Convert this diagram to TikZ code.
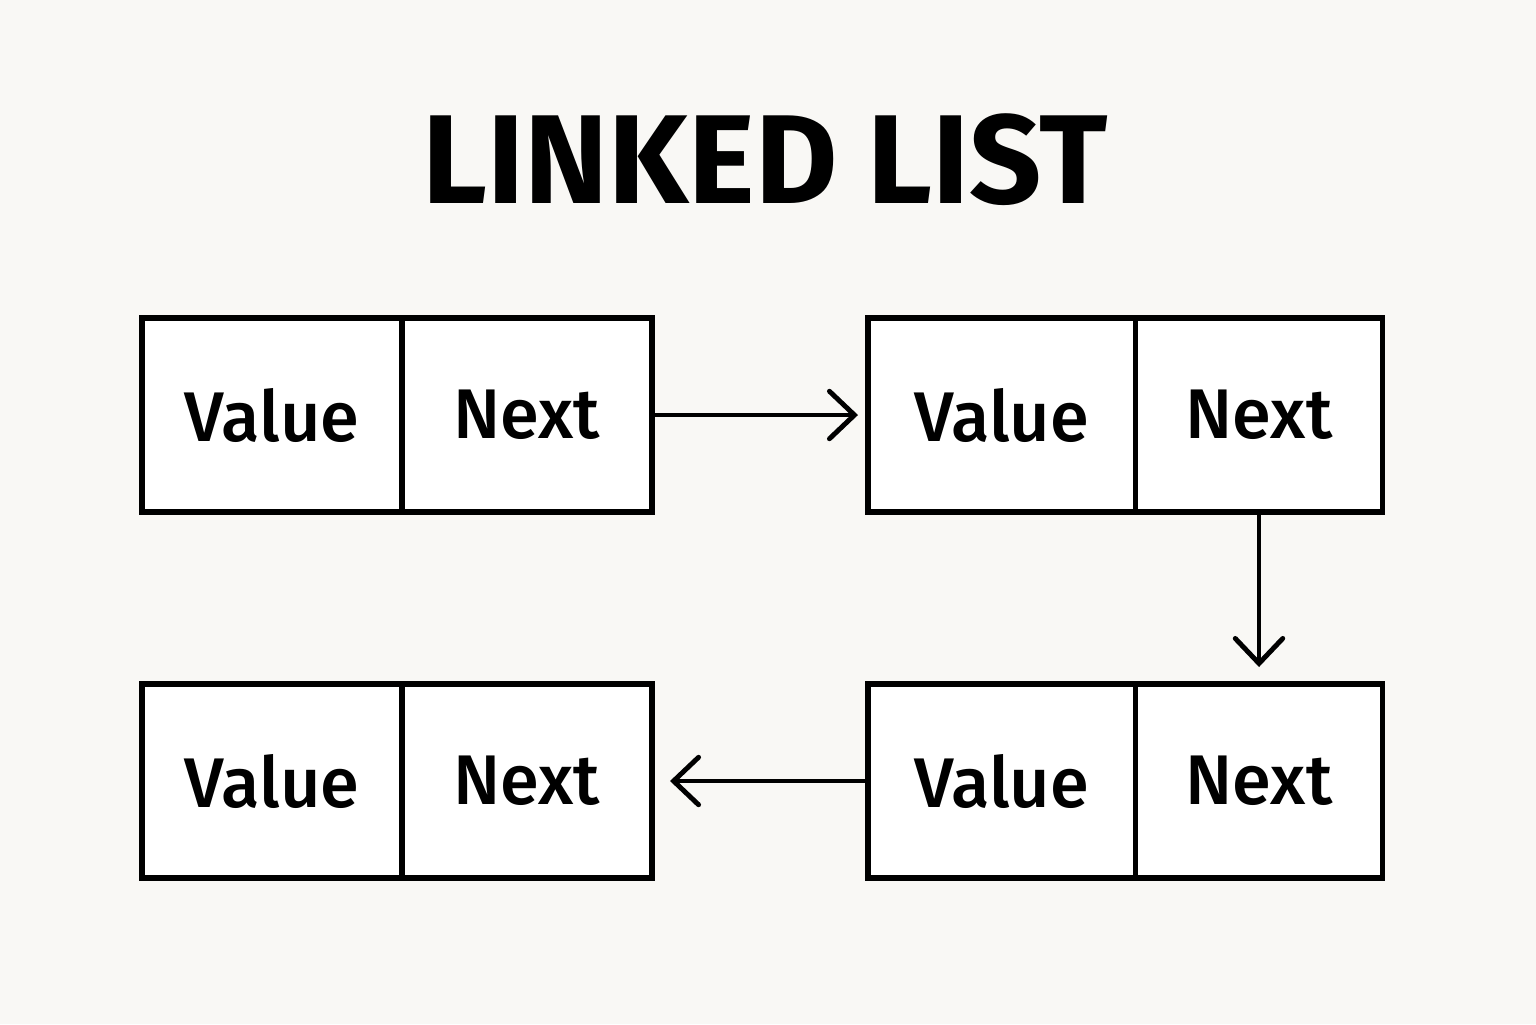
\documentclass[tikz,border=0pt]{standalone}
\usepackage{fontspec}
\setmainfont{Fira Sans}
\newfontfamily\cellfont{Fira Sans Medium}
\usetikzlibrary{arrows.meta,positioning}

\definecolor{paper}{HTML}{F9F8F5}

\tikzset{
  cell/.style={draw, line width=3.2pt, fill=white, outer sep=0pt,
               minimum height=3.88cm, font=\cellfont\fontsize{40}{44}\selectfont},
  valcell/.style={cell, minimum width=5.2cm},
  nextcell/.style={cell, minimum width=5.0cm},
  link/.style={->, line width=2.8pt, >={Straight Barb[length=0.5cm,width=0.95cm,line cap=round]}}
}

\begin{document}
\begin{tikzpicture}
        \fill[paper] (0,0) rectangle (30.72,-20.48);
        \useasboundingbox (0,0) rectangle (30.72,-20.48);

        \node (title) at (15.3,-3.2) {\fontsize{72}{76}\selectfont\bfseries LINKED LIST};

        % first row
        \node (v1) [valcell, anchor=west] at (2.84,-8.30) {Value};
        \node (n1) [nextcell, right=0pt of v1] {Next};
        \node (v2) [valcell, anchor=west, minimum width=5.35cm] at (17.36,-8.30) {Value};
        \node (n2) [nextcell, right=0pt of v2, minimum width=4.94cm] {Next};

        % second row
        \node (v4) [valcell, anchor=west] at (2.84,-15.62) {Value};
        \node (n4) [nextcell, right=0pt of v4] {Next};
        \node (v3) [valcell, anchor=west, minimum width=5.35cm] at (17.36,-15.62) {Value};
        \node (n3) [nextcell, right=0pt of v3, minimum width=4.94cm] {Next};

        \draw[link, shorten >=0.2cm] (n1) -- (v2);
        \draw[link, shorten >=0.34cm] (n2) -- (n3);
        \draw[link, shorten >=0.36cm] (v3) -- (n4);
    \end{tikzpicture}
\end{document}
